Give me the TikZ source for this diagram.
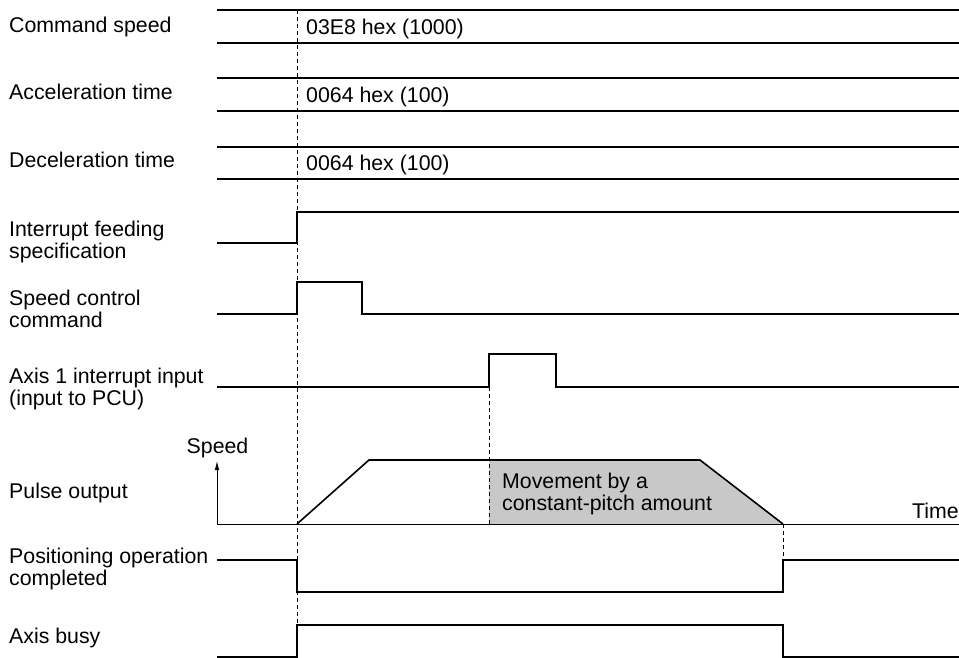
\documentclass[tikz,border=0pt]{standalone}
\usepackage{fontspec}
\setmainfont{Liberation Sans}
\usetikzlibrary{arrows.meta}
\definecolor{pitchgray}{RGB}{200,200,200}

\begin{document}
\begin{tikzpicture}[x=1bp,y=-1bp,font=\fontsize{21.4}{21.5}\selectfont,>=Latex,
  sig/.style={line width=1.6bp},
  guide/.style={line width=0.6bp,dash pattern=on 4bp off 3bp},
  lbl/.style={anchor=base west,inner sep=0pt,align=left}]
\useasboundingbox (0,0) rectangle (959,658);
% value buses
\foreach \yt/\yb/\v [count=\i] in {10/43/03E8 hex (1000), 78/111/0064 hex (100), 147/179/0064 hex (100)} {
  \draw[sig] (217,\yt) -- (959,\yt) (217,\yb) -- (959,\yb);
  \node[lbl] (val\i) at (306,\yb-8) {\v};
}
% row labels (base = last line)
\foreach \y/\t [count=\i] in {33/Command speed, 100/Acceleration time, 168/Deceleration time,
  258/Interrupt feeding\\specification, 327/Speed control\\command,
  405/Axis 1 interrupt input\\(input to PCU), 498/Pulse output,
  585/Positioning operation\\completed, 643/Axis busy}
  \node[lbl] (row\i) at (9,\y) {\t};
% shaded constant-pitch area
\fill[pitchgray] (489,524) -- (489,460) -- (700,460) -- (783,524) -- cycle;
\node[lbl] (pitch) at (502,510) {Movement by a\\constant-pitch amount};
% speed axes
\draw[line width=0.8bp,-{Latex[length=9bp,width=4.5bp]}] (217,524) -- (217,461);
\draw[line width=0.8bp] (217,524) -- (959,524);
\node[anchor=base,inner sep=0pt] (speed) at (217.5,453) {Speed};
\node[anchor=base east,inner sep=0pt] (time) at (959,518) {Time};
% timing guides
\draw[guide] (297,10) -- (297,625);
\draw[guide] (489,387) -- (489,524);
\draw[guide] (783,524) -- (783,560);
% signals
\draw[sig] (217,243) -- (297,243) -- (297,212) -- (959,212);
\draw[sig] (217,314) -- (297,314) -- (297,282) -- (362,282) -- (362,314) -- (959,314);
\draw[sig] (217,387) -- (489,387) -- (489,354) -- (556,354) -- (556,387) -- (959,387);
\draw[sig] (297,524) -- (369,460) -- (700,460) -- (783,524);
\draw[sig] (217,560) -- (297,560) -- (297,592) -- (783,592) -- (783,560) -- (959,560);
\draw[sig] (217,657) -- (297,657) -- (297,625) -- (783,625) -- (783,657) -- (959,657);
\end{tikzpicture}
\end{document}
